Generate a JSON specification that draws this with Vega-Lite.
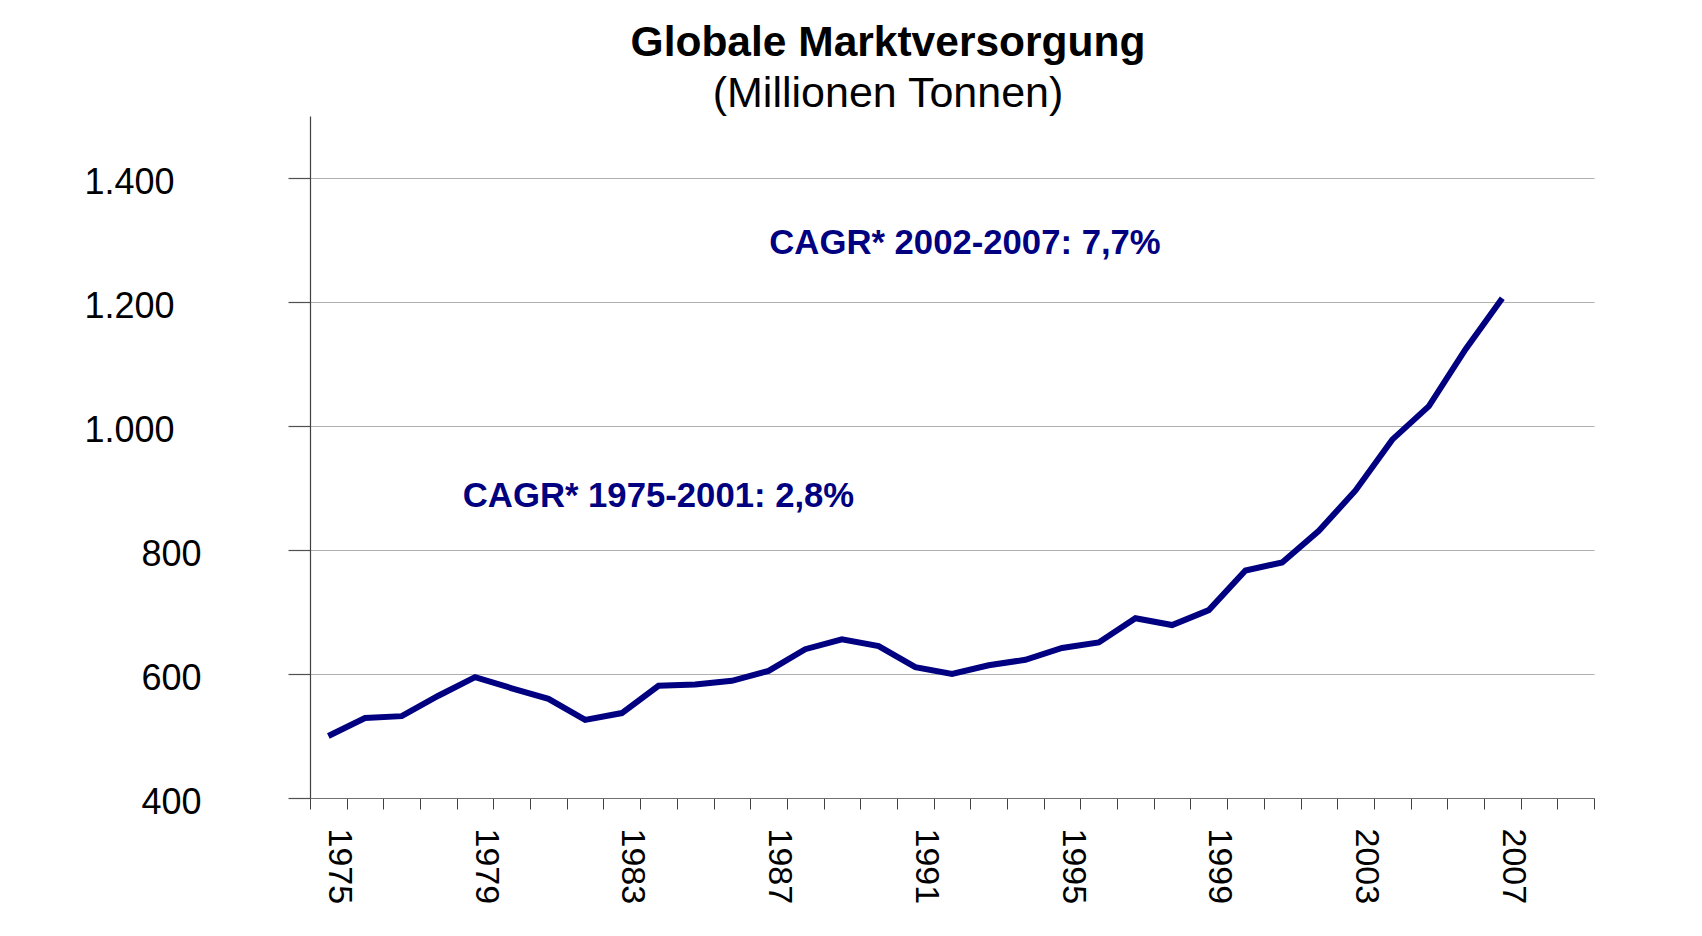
{
  "$schema": "https://vega.github.io/schema/vega-lite/v6.json",
  "width": 1284,
  "height": 682,
  "autosize": {"type": "none"},
  "padding": {"left": 310, "top": 116, "right": 108, "bottom": 138},
  "background": "white",
  "title": {
    "text": "Globale Marktversorgung",
    "subtitle": "(Millionen Tonnen)",
    "anchor": "middle",
    "frame": "group",
    "dx": -64,
    "offset": 0,
    "font": "Liberation Sans",
    "fontSize": 42.5,
    "fontWeight": "bold",
    "color": "#000000",
    "subtitleFont": "Liberation Sans",
    "subtitleFontSize": 43,
    "subtitleFontWeight": "normal",
    "subtitleColor": "#000000",
    "subtitlePadding": 9
  },
  "datasets": {
    "supply": [
      {"year": 1975, "tonnes": 500},
      {"year": 1976, "tonnes": 529},
      {"year": 1977, "tonnes": 532},
      {"year": 1978, "tonnes": 565},
      {"year": 1979, "tonnes": 595},
      {"year": 1980, "tonnes": 577},
      {"year": 1981, "tonnes": 560},
      {"year": 1982, "tonnes": 526},
      {"year": 1983, "tonnes": 537},
      {"year": 1984, "tonnes": 581},
      {"year": 1985, "tonnes": 583},
      {"year": 1986, "tonnes": 589},
      {"year": 1987, "tonnes": 605},
      {"year": 1988, "tonnes": 640},
      {"year": 1989, "tonnes": 656},
      {"year": 1990, "tonnes": 645},
      {"year": 1991, "tonnes": 611},
      {"year": 1992, "tonnes": 600},
      {"year": 1993, "tonnes": 614},
      {"year": 1994, "tonnes": 623},
      {"year": 1995, "tonnes": 642},
      {"year": 1996, "tonnes": 651},
      {"year": 1997, "tonnes": 690},
      {"year": 1998, "tonnes": 679},
      {"year": 1999, "tonnes": 703},
      {"year": 2000, "tonnes": 767},
      {"year": 2001, "tonnes": 780},
      {"year": 2002, "tonnes": 831},
      {"year": 2003, "tonnes": 896},
      {"year": 2004, "tonnes": 978},
      {"year": 2005, "tonnes": 1032},
      {"year": 2006, "tonnes": 1124},
      {"year": 2007, "tonnes": 1206}
    ],
    "noteLate": [{"year": 1992, "tonnes": 1294, "label": "CAGR* 2002-2007: 7,7%"}],
    "noteEarly": [{"year": 1984, "tonnes": 885, "label": "CAGR* 1975-2001: 2,8%"}]
  },
  "encoding": {
    "x": {
      "field": "year",
      "type": "ordinal",
      "scale": {
        "type": "band",
        "paddingInner": 0,
        "paddingOuter": 0,
        "domain": [1975,1976,1977,1978,1979,1980,1981,1982,1983,1984,1985,1986,1987,1988,1989,1990,1991,1992,1993,1994,1995,1996,1997,1998,1999,2000,2001,2002,2003,2004,2005,2006,2007,2008,2009]
      },
      "axis": {
        "title": null,
        "grid": false,
        "tickBand": "extent",
        "tickSize": 11,
        "tickColor": "#404040",
        "tickWidth": 1,
        "domainColor": "#707070",
        "domainWidth": 1.2,
        "labelAngle": 90,
        "labelFont": "Liberation Sans",
        "labelFontSize": 34,
        "labelColor": "#000000",
        "labelPadding": 19,
        "labelOffset": 10,
        "labelOverlap": false,
        "labelExpr": "(datum.value - 1975) % 4 == 0 ? datum.label : ''"
      }
    },
    "y": {
      "field": "tonnes",
      "type": "quantitative",
      "scale": {"domain": [400, 1500], "nice": false, "zero": false},
      "axis": {
        "title": null,
        "values": [400, 600, 800, 1000, 1200, 1400],
        "grid": true,
        "gridColor": "#b0b0b0",
        "gridWidth": 1.2,
        "tickSize": 22,
        "tickColor": "#505050",
        "tickWidth": 1.2,
        "domainColor": "#404040",
        "domainWidth": 1.2,
        "labelFont": "Liberation Sans",
        "labelFontSize": 36,
        "labelColor": "#000000",
        "labelOffset": 4,
        "labelPadding": {"condition": {"test": "datum.value >= 1000", "value": 114}, "value": 87},
        "labelExpr": "datum.value >= 1000 ? replace(format(datum.value, ','), ',', '.') : format(datum.value, 'd')"
      }
    }
  },
  "layer": [
    {
      "data": {"name": "supply"},
      "mark": {"type": "line", "color": "#000080", "strokeWidth": 6, "strokeJoin": "miter", "strokeCap": "butt"}
    },
    {
      "data": {"name": "noteLate"},
      "mark": {"type": "text", "font": "Liberation Sans", "fontSize": 34.7, "fontWeight": "bold", "color": "#000080", "align": "center", "baseline": "middle", "dx": 13},
      "encoding": {"text": {"field": "label"}}
    },
    {
      "data": {"name": "noteEarly"},
      "mark": {"type": "text", "font": "Liberation Sans", "fontSize": 34.7, "fontWeight": "bold", "color": "#000080", "align": "center", "baseline": "middle"},
      "encoding": {"text": {"field": "label"}}
    }
  ],
  "config": {"view": {"stroke": null}}
}
